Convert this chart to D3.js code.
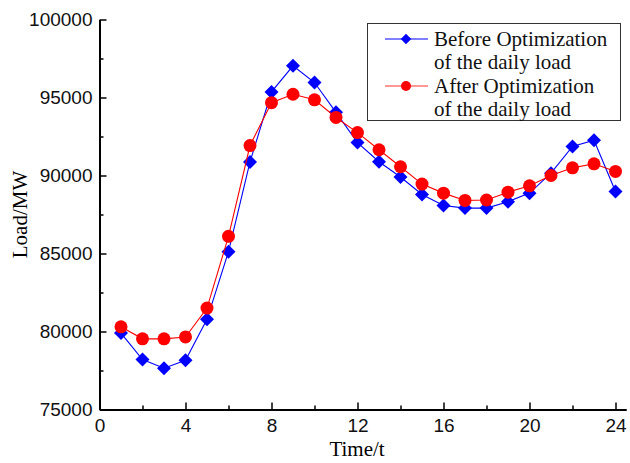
<!DOCTYPE html>
<html>
<head>
<meta charset="utf-8">
<script src="https://cdn.jsdelivr.net/npm/d3@7"></script>
<style>
  body { margin: 0; background: #fff; }
  svg { display: block; }
</style>
</head>
<body>
<div id="chart"></div>
<script>
// hours of the day
const hours = [1, 2, 3, 4, 5, 6, 7, 8, 9, 10, 11, 12, 13, 14, 15, 16, 17, 18, 19, 20, 21, 22, 23, 24];
// load before optimization (MW)
const beforeLoad = [79900, 78200, 77650, 78150, 80780, 85120, 90870, 95360, 97030, 95960,
  94050, 92110, 90880, 89900, 88780, 88080, 87910, 87910, 88320, 88870, 90150, 91860, 92260, 88980];
// load after optimization (MW)
const afterLoad = [80300, 79530, 79530, 79650, 81500, 86100, 91920, 94670, 95210, 94850,
  93720, 92750, 91650, 90560, 89450, 88870, 88400, 88430, 88930, 89340, 90000, 90490, 90750, 90260];
const xTicks = [0, 4, 8, 12, 16, 20, 24];
const yTicks = [75000, 80000, 85000, 90000, 95000, 100000];
const legendLabels = [["Before Optimization", "of the daily load"], ["After Optimization", "of the daily load"]];

const width = 630, height = 463;
const margin = { top: 19.5, right: 3, bottom: 53, left: 99.5 };

const svg = d3.select('#chart').append('svg')
  .attr('width', width)
  .attr('height', height);

const x = d3.scaleLinear().domain([0, 24.5]).range([margin.left, margin.left + 24.5 * 21.5]);
const y = d3.scaleLinear().domain([75000, 100000]).range([height - margin.bottom - 0.5, margin.top]);

// axes (ticks point inward)
const xAxis = svg.append('g')
  .attr('transform', `translate(0,${y(75000)})`)
  .call(d3.axisBottom(x).tickValues(xTicks).tickSize(-7).tickPadding(14).tickSizeOuter(0));
svg.append('g')
  .attr('transform', `translate(0,${y(75000)})`)
  .call(d3.axisBottom(x).tickValues(d3.range(2, 24, 4)).tickSize(-4).tickFormat('').tickSizeOuter(0))
  .select('.domain').remove();

const yAxis = svg.append('g')
  .attr('transform', `translate(${x(0)},0)`)
  .call(d3.axisLeft(y).tickValues(yTicks).tickFormat(d3.format('d')).tickSize(-7).tickPadding(7).tickSizeOuter(0));
svg.append('g')
  .attr('transform', `translate(${x(0)},0)`)
  .call(d3.axisLeft(y).tickValues(d3.range(77500, 100000, 5000)).tickSize(-4).tickFormat('').tickSizeOuter(0))
  .select('.domain').remove();

svg.selectAll('.domain').attr('stroke', '#000').attr('stroke-width', 2);
svg.selectAll('.tick line').attr('stroke', '#000').attr('stroke-width', 1.5);
svg.selectAll('.tick text')
  .attr('fill', '#111')
  .style('font-family', 'Liberation Sans, Arial, sans-serif')
  .style('font-size', '19px');
xAxis.selectAll('.tick text').attr('dy', '0.45em');

// axis titles
svg.append('text')
  .attr('x', 357).attr('y', 456)
  .attr('text-anchor', 'middle')
  .style('font-family', 'Liberation Serif, Times New Roman, serif')
  .style('font-size', '21px')
  .text('Time/t');
svg.append('text')
  .attr('transform', `translate(27,${(y(75000) + y(100000)) / 2}) rotate(-90)`)
  .attr('text-anchor', 'middle')
  .style('font-family', 'Liberation Serif, Times New Roman, serif')
  .style('font-size', '21px')
  .text('Load/MW');

const line = d3.line().x((d, i) => x(hours[i])).y(d => y(d));
const diamond = d3.symbol().type(d3.symbolDiamond2).size(125);

// before series
svg.append('path')
  .datum(beforeLoad)
  .attr('d', line)
  .attr('fill', 'none')
  .attr('stroke', '#0000ff')
  .attr('stroke-width', 1.1);
svg.append('g').selectAll('path')
  .data(beforeLoad)
  .join('path')
  .attr('d', diamond)
  .attr('transform', (d, i) => `translate(${x(hours[i])},${y(d)})`)
  .attr('fill', '#0000ff');

// after series
svg.append('path')
  .datum(afterLoad)
  .attr('d', line)
  .attr('fill', 'none')
  .attr('stroke', '#ff0000')
  .attr('stroke-width', 1.1);
svg.append('g').selectAll('circle')
  .data(afterLoad)
  .join('circle')
  .attr('cx', (d, i) => x(hours[i]))
  .attr('cy', d => y(d))
  .attr('r', 6.5)
  .attr('fill', '#ff0000');

// legend
const lg = svg.append('g');
lg.append('rect')
  .attr('x', 367.5).attr('y', 23.5)
  .attr('width', 253).attr('height', 97)
  .attr('fill', '#fff')
  .attr('stroke', '#333')
  .attr('stroke-width', 1);
const colors = ['#0000ff', '#ff3030'];
legendLabels.forEach((lines, k) => {
  const cy = 39 + k * 47;
  lg.append('line')
    .attr('x1', 385).attr('x2', 428)
    .attr('y1', cy).attr('y2', cy)
    .attr('stroke', colors[k]).attr('stroke-width', 1.2);
  if (k === 0) {
    lg.append('path')
      .attr('d', d3.symbol().type(d3.symbolDiamond2).size(70))
      .attr('transform', `translate(406,${cy})`)
      .attr('fill', '#0000ff');
  } else {
    lg.append('circle').attr('cx', 406).attr('cy', cy).attr('r', 5).attr('fill', '#ff0000');
  }
  lines.forEach((t, j) => {
    lg.append('text')
      .attr('x', 434).attr('y', cy + 7 + j * 23)
      .style('font-family', 'Liberation Serif, Times New Roman, serif')
      .style('font-size', '21px')
      .attr('fill', '#111')
      .text(t);
  });
});
</script>
</body>
</html>
